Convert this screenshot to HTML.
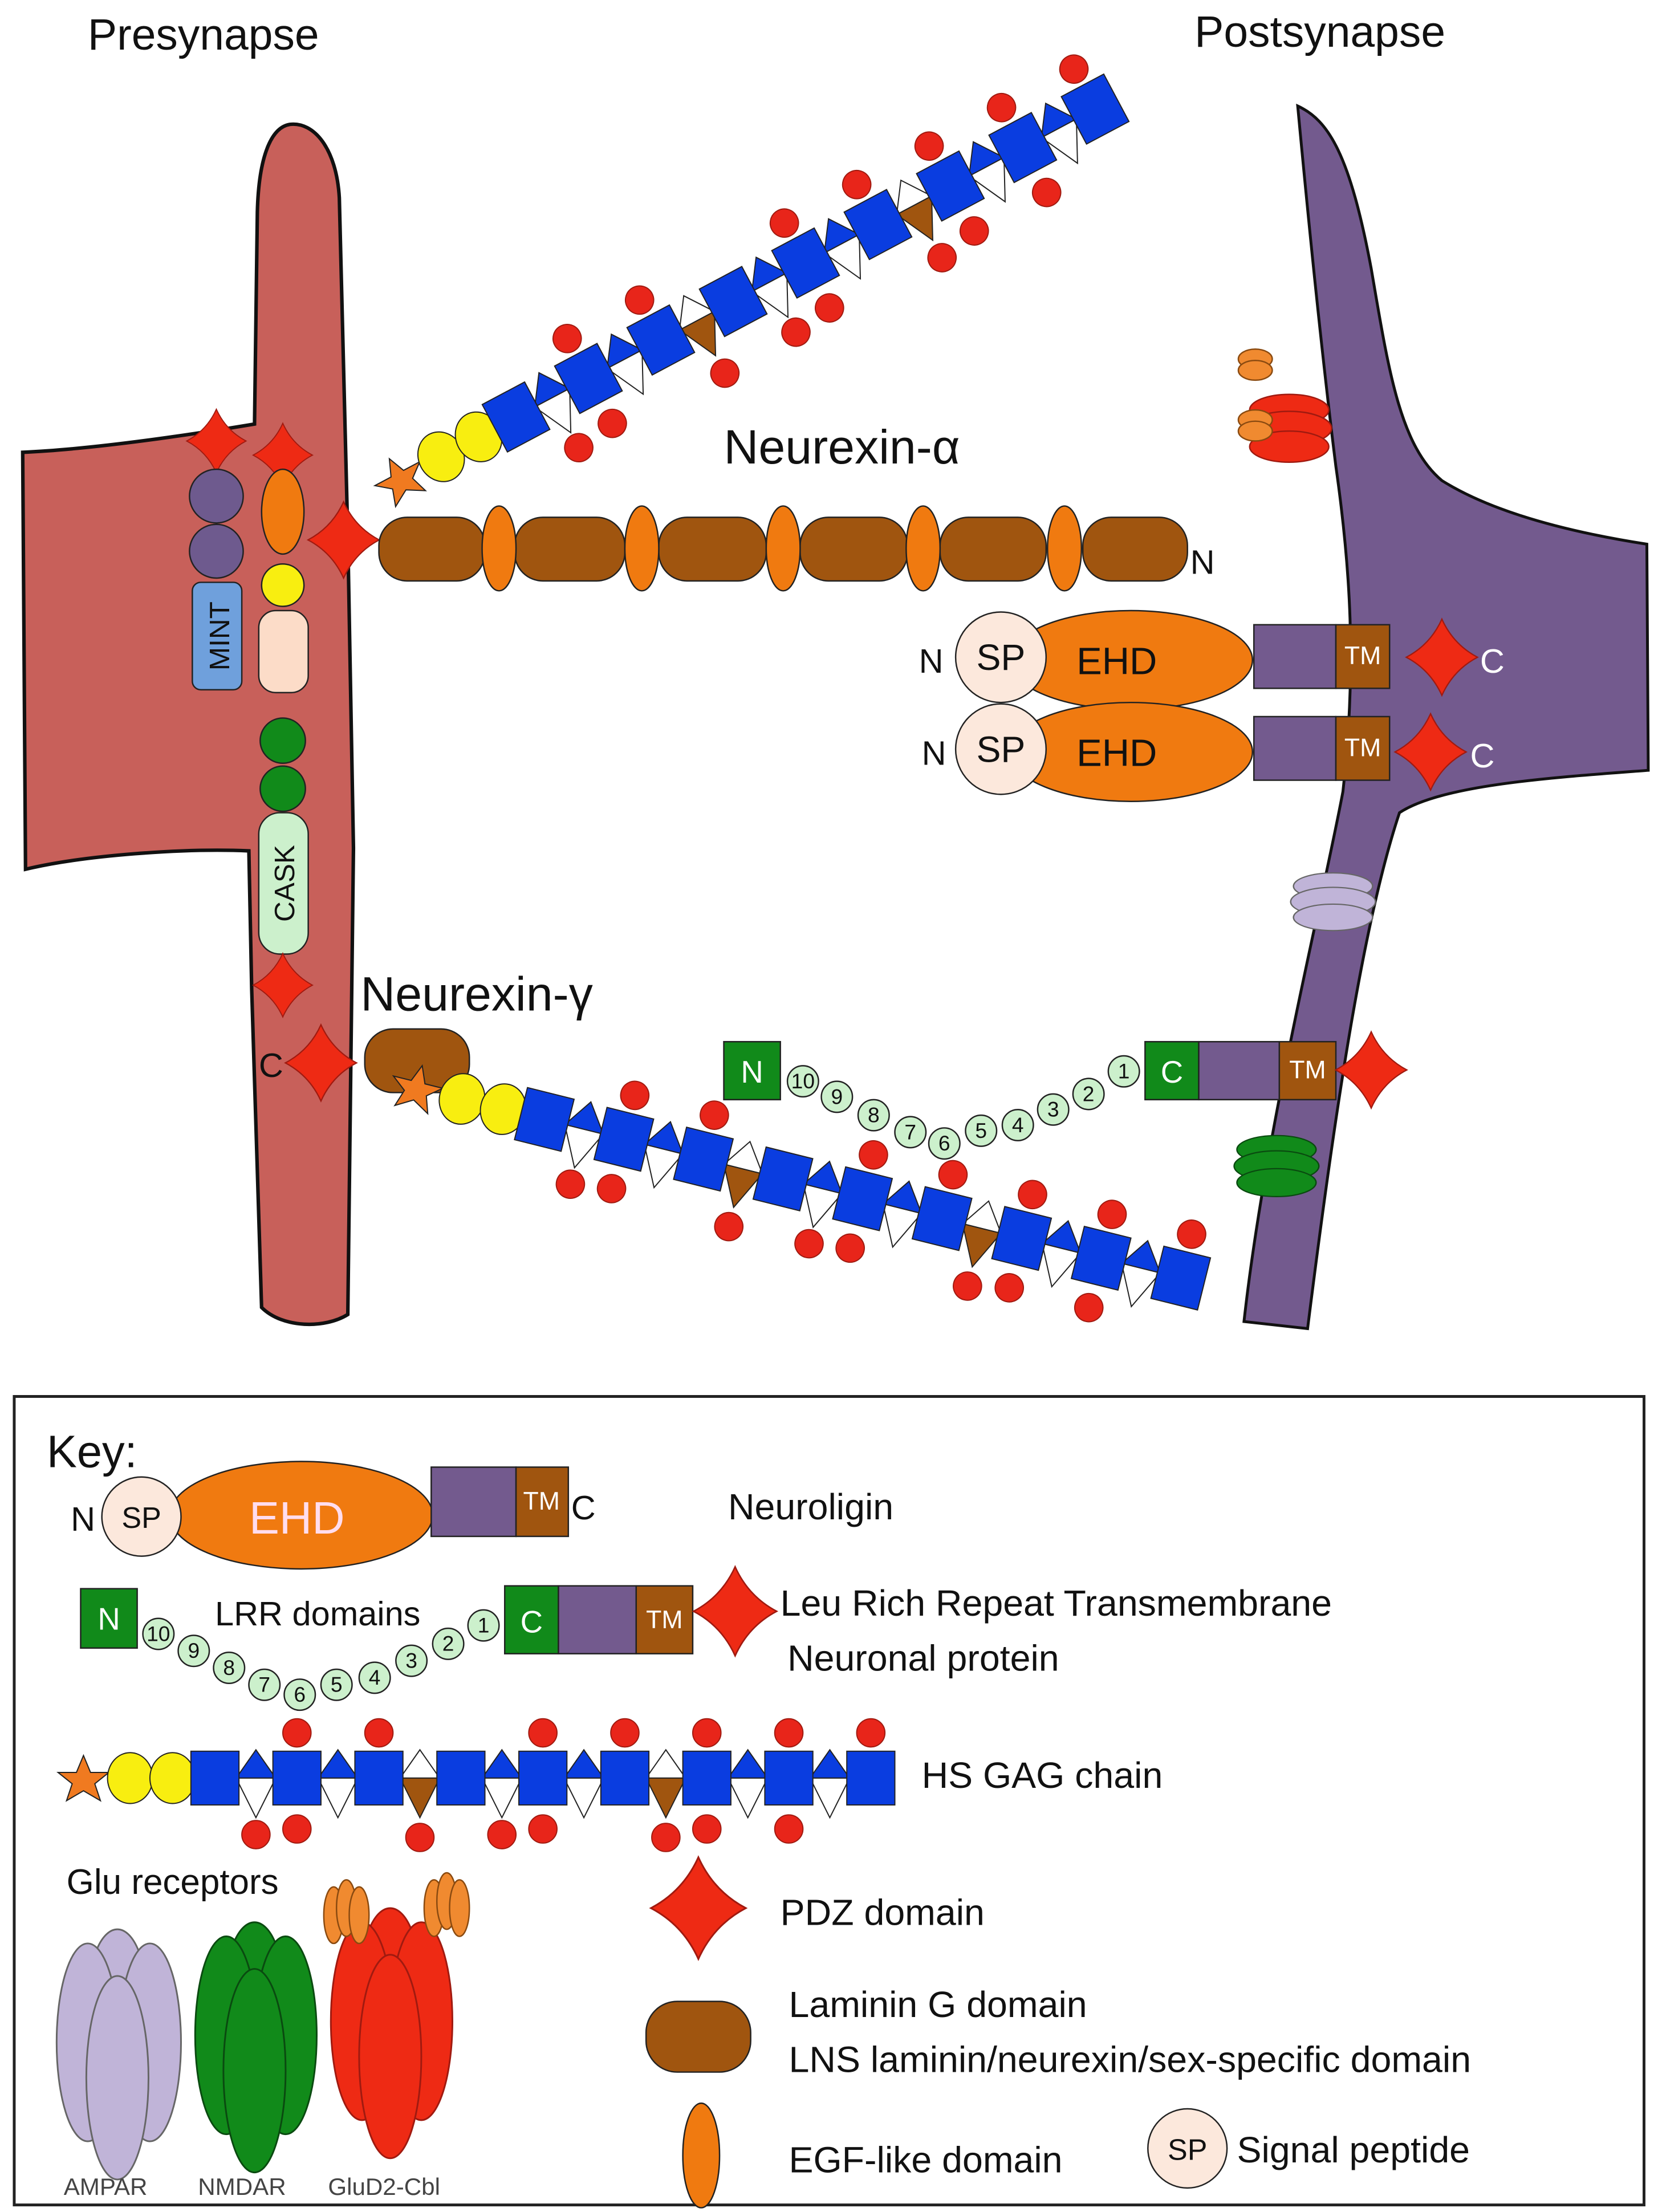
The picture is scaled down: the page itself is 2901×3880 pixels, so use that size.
<!DOCTYPE html>
<html><head><meta charset="utf-8"><style>
html,body{margin:0;padding:0;background:#fff}
svg{display:block}
text{font-family:"Liberation Sans",sans-serif;fill:#111}
</style></head><body>
<svg width="2901" height="3880" viewBox="0 0 1170 1565" xmlns="http://www.w3.org/2000/svg">
<defs>
<path id="pdz" d="M0,-30 Q9,-10 28,0 Q9,10 0,30 Q-9,10 -28,0 Q-9,-10 0,-30Z" fill="#ee2a14" stroke="#a01a10" stroke-width="1"/>
<g id="gag" stroke="#222" stroke-width="0.8">
  <path d="M-93,-16 L-88,-4 L-75,-4 L-85,4 L-81,16 L-93,9 L-105,16 L-101,4 L-111,-4 L-98,-4Z" fill="#f07a20"/>
  <ellipse cx="-60" cy="0" rx="16" ry="18" fill="#f8ee10"/>
  <ellipse cx="-30" cy="0" rx="16" ry="18" fill="#f8ee10"/>
  <g fill="#e8251a" stroke="#a01a10">
    <circle cx="58" cy="-32" r="10"/><circle cx="116" cy="-32" r="10"/><circle cx="232" cy="-32" r="10"/>
    <circle cx="290" cy="-32" r="10"/><circle cx="348" cy="-32" r="10"/><circle cx="406" cy="-32" r="10"/><circle cx="464" cy="-32" r="10"/>
    <circle cx="29" cy="40" r="10"/><circle cx="58" cy="36" r="10"/><circle cx="145" cy="42" r="10"/><circle cx="203" cy="40" r="10"/>
    <circle cx="232" cy="36" r="10"/><circle cx="319" cy="42" r="10"/><circle cx="348" cy="36" r="10"/><circle cx="406" cy="36" r="10"/>
  </g>
  <g>
    <path d="M15,0 L43,0 L29,-20Z" fill="#0a3de0"/><path d="M15,0 L43,0 L29,28Z" fill="#fff"/>
    <path d="M73,0 L101,0 L87,-20Z" fill="#0a3de0"/><path d="M73,0 L101,0 L87,28Z" fill="#fff"/>
    <path d="M131,0 L159,0 L145,-20Z" fill="#fff"/><path d="M131,0 L159,0 L145,28Z" fill="#a0550f"/>
    <path d="M189,0 L217,0 L203,-20Z" fill="#0a3de0"/><path d="M189,0 L217,0 L203,28Z" fill="#fff"/>
    <path d="M247,0 L275,0 L261,-20Z" fill="#0a3de0"/><path d="M247,0 L275,0 L261,28Z" fill="#fff"/>
    <path d="M305,0 L333,0 L319,-20Z" fill="#fff"/><path d="M305,0 L333,0 L319,28Z" fill="#a0550f"/>
    <path d="M363,0 L391,0 L377,-20Z" fill="#0a3de0"/><path d="M363,0 L391,0 L377,28Z" fill="#fff"/>
    <path d="M421,0 L449,0 L435,-20Z" fill="#0a3de0"/><path d="M421,0 L449,0 L435,28Z" fill="#fff"/>
  </g>
  <g fill="#0a3de0">
    <rect x="-17" y="-19" width="34" height="38"/><rect x="41" y="-19" width="34" height="38"/><rect x="99" y="-19" width="34" height="38"/>
    <rect x="157" y="-19" width="34" height="38"/><rect x="215" y="-19" width="34" height="38"/><rect x="273" y="-19" width="34" height="38"/>
    <rect x="331" y="-19" width="34" height="38"/><rect x="389" y="-19" width="34" height="38"/><rect x="447" y="-19" width="34" height="38"/>
  </g>
</g>
<g id="rec">
  <ellipse cx="0" cy="-13" rx="28" ry="11"/><ellipse cx="0" cy="0" rx="30" ry="12"/><ellipse cx="0" cy="13" rx="28" ry="11"/>
</g>
</defs>

<path d="M205,88 C222,86 238,105 240,140 L246,380 L250,600 L246,930 C230,940 200,940 185,925 L178,700 L176,602 C130,600 60,605 18,615 L16,320 C60,318 120,310 180,300 L182,150 C183,110 192,90 205,88Z" fill="#c8605a" stroke="#111" stroke-width="2.5"/>
<path d="M918,75 C940,85 955,110 970,190 C982,260 990,315 1020,340 C1060,365 1120,378 1165,385 L1166,545 C1100,550 1020,555 990,575 C965,650 945,780 925,940 L880,935 C895,800 935,640 950,560 C960,470 955,400 945,330 C935,250 925,150 918,75Z" fill="#735a8e" stroke="#111" stroke-width="2"/>

<text x="62" y="35" font-size="31">Presynapse</text>
<text x="845" y="33" font-size="31">Postsynapse</text>

<use href="#pdz" transform="translate(153,312) scale(0.75)"/>
<circle cx="153" cy="351" r="19" fill="#6e5a8e" stroke="#222"/>
<circle cx="153" cy="390" r="19" fill="#6e5a8e" stroke="#222"/>
<rect x="136" y="412" width="35" height="76" rx="6" fill="#6fa0dc" stroke="#222"/>
<text transform="translate(162,450) rotate(-90)" font-size="20" text-anchor="middle">MINT</text>
<use href="#pdz" transform="translate(200,322) scale(0.75)"/>
<ellipse cx="200" cy="362" rx="15" ry="30" fill="#f07a10" stroke="#222"/>
<circle cx="200" cy="414" r="15" fill="#f8ee10" stroke="#222"/>
<rect x="183" y="432" width="35" height="58" rx="12" fill="#fcdcc8" stroke="#222"/>
<circle cx="200" cy="524" r="16" fill="#118a1a" stroke="#222"/>
<circle cx="200" cy="558" r="16" fill="#118a1a" stroke="#222"/>
<rect x="183" y="575" width="35" height="100" rx="15" fill="#ccf0cc" stroke="#222"/>
<text transform="translate(208,625) rotate(-90)" font-size="20" text-anchor="middle">CASK</text>
<use href="#pdz" transform="translate(200,697) scale(0.75)"/>

<text x="512" y="328" font-size="34">Neurexin-α</text>
<use href="#pdz" transform="translate(243,382) scale(0.9)"/>
<g fill="#a0550f" stroke="#222">
<rect x="268" y="366" width="75" height="45" rx="20"/><rect x="364" y="366" width="78" height="45" rx="20"/>
<rect x="466" y="366" width="76" height="45" rx="20"/><rect x="566" y="366" width="76" height="45" rx="20"/>
<rect x="665" y="366" width="75" height="45" rx="20"/><rect x="766" y="366" width="74" height="45" rx="20"/>
</g>
<g fill="#f07a10" stroke="#222">
<ellipse cx="353" cy="388" rx="12" ry="30"/><ellipse cx="454" cy="388" rx="12" ry="30"/>
<ellipse cx="554" cy="388" rx="12" ry="30"/><ellipse cx="653" cy="388" rx="12" ry="30"/><ellipse cx="753" cy="388" rx="12" ry="30"/>
</g>
<text x="842" y="406" font-size="24">N</text>

<use href="#gag" transform="translate(365,295) rotate(-28)"/>

<g>
<text x="650" y="476" font-size="24">N</text>
<ellipse cx="800" cy="467" rx="86" ry="35" fill="#f07a10" stroke="#222"/>
<circle cx="708" cy="465" r="32" fill="#fce8dc" stroke="#222"/>
<text x="708" y="474" font-size="26" text-anchor="middle">SP</text>
<text x="790" y="477" font-size="27" text-anchor="middle">EHD</text>
<rect x="887" y="442" width="58" height="45" fill="#735a8e" stroke="#222"/>
<rect x="945" y="442" width="38" height="45" fill="#a0550f" stroke="#222"/>
<text x="964" y="470" font-size="18" text-anchor="middle" style="fill:#fff">TM</text>
<use href="#pdz" transform="translate(1020,465) scale(0.9)"/>
<text x="1047" y="476" font-size="24" style="fill:#fff">C</text>
</g>
<g transform="translate(0,65)">
<text x="652" y="476" font-size="24">N</text>
<ellipse cx="800" cy="467" rx="86" ry="35" fill="#f07a10" stroke="#222"/>
<circle cx="708" cy="465" r="32" fill="#fce8dc" stroke="#222"/>
<text x="708" y="474" font-size="26" text-anchor="middle">SP</text>
<text x="790" y="477" font-size="27" text-anchor="middle">EHD</text>
<rect x="887" y="442" width="58" height="45" fill="#735a8e" stroke="#222"/>
<rect x="945" y="442" width="38" height="45" fill="#a0550f" stroke="#222"/>
<text x="964" y="470" font-size="18" text-anchor="middle" style="fill:#fff">TM</text>
<use href="#pdz" transform="translate(1012,467) scale(0.9)"/>
<text x="1040" y="478" font-size="24" style="fill:#fff">C</text>
</g>

<g fill="#ee2a14" stroke="#a01a10"><use href="#rec" transform="translate(912,303)"/></g>
<g fill="#f08a30" stroke="#8a4a10"><ellipse cx="888" cy="254" rx="12" ry="7"/><ellipse cx="888" cy="262" rx="12" ry="7"/><ellipse cx="888" cy="297" rx="12" ry="7"/><ellipse cx="888" cy="305" rx="12" ry="7"/></g>
<g fill="#c0b4d8" stroke="#666"><use href="#rec" transform="translate(943,638) scale(1,0.85)"/></g>
<g fill="#118a1a" stroke="#0a4a10"><use href="#rec" transform="translate(903,825) scale(1,0.9)"/></g>

<text x="255" y="715" font-size="34">Neurexin-γ</text>
<text x="183" y="762" font-size="24">C</text>
<use href="#pdz" transform="translate(227,752) scale(0.9)"/>
<rect x="258" y="728" width="74" height="45" rx="20" fill="#a0550f" stroke="#222"/>
<use href="#gag" transform="translate(385,792) rotate(14)"/>

<rect x="512" y="737" width="40" height="41" fill="#118a1a" stroke="#222"/>
<text x="532" y="766" font-size="22" text-anchor="middle" style="fill:#fff">N</text>
<g fill="#ccf0cc" stroke="#222">
<circle cx="568" cy="765" r="11"/><circle cx="592" cy="776" r="11"/><circle cx="618" cy="789" r="11"/><circle cx="644" cy="801" r="11"/><circle cx="668" cy="809" r="11"/>
<circle cx="694" cy="800" r="11"/><circle cx="720" cy="796" r="11"/><circle cx="745" cy="785" r="11"/><circle cx="770" cy="774" r="11"/><circle cx="795" cy="758" r="11"/>
</g>
<g font-size="15" text-anchor="middle">
<text x="568" y="770">10</text><text x="592" y="781">9</text><text x="618" y="794">8</text><text x="644" y="806">7</text><text x="668" y="814">6</text>
<text x="694" y="805">5</text><text x="720" y="801">4</text><text x="745" y="790">3</text><text x="770" y="779">2</text><text x="795" y="763">1</text>
</g>
<rect x="810" y="737" width="38" height="41" fill="#118a1a" stroke="#222"/>
<text x="829" y="766" font-size="22" text-anchor="middle" style="fill:#fff">C</text>
<rect x="848" y="737" width="57" height="41" fill="#735a8e" stroke="#222"/>
<rect x="905" y="737" width="40" height="41" fill="#a0550f" stroke="#222"/>
<text x="925" y="763" font-size="18" text-anchor="middle" style="fill:#fff">TM</text>
<use href="#pdz" transform="translate(970,757) scale(0.9)"/>

<rect x="10" y="988" width="1153" height="572" fill="#fff" stroke="#222" stroke-width="2"/>
<text x="33" y="1038" font-size="32">Key:</text>

<text x="50" y="1083" font-size="24">N</text>
<ellipse cx="213" cy="1072" rx="93" ry="38" fill="#f07a10" stroke="#222"/>
<circle cx="100" cy="1073" r="28" fill="#fce8dc" stroke="#222"/>
<text x="100" y="1081" font-size="21" text-anchor="middle">SP</text>
<text x="210" y="1085" font-size="32" text-anchor="middle" style="fill:#fde">EHD</text>
<rect x="305" y="1038" width="60" height="49" fill="#735a8e" stroke="#222"/>
<rect x="365" y="1038" width="37" height="49" fill="#a0550f" stroke="#222"/>
<text x="383" y="1068" font-size="18" text-anchor="middle" style="fill:#fff">TM</text>
<text x="404" y="1075" font-size="24">C</text>
<text x="515" y="1075" font-size="26">Neuroligin</text>

<rect x="57" y="1124" width="40" height="42" fill="#118a1a" stroke="#222"/>
<text x="77" y="1153" font-size="22" text-anchor="middle" style="fill:#fff">N</text>
<g fill="#ccf0cc" stroke="#222">
<circle cx="112" cy="1156" r="11"/><circle cx="137" cy="1168" r="11"/><circle cx="162" cy="1180" r="11"/><circle cx="187" cy="1192" r="11"/><circle cx="212" cy="1199" r="11"/>
<circle cx="238" cy="1192" r="11"/><circle cx="265" cy="1187" r="11"/><circle cx="291" cy="1175" r="11"/><circle cx="317" cy="1163" r="11"/><circle cx="342" cy="1150" r="11"/>
</g>
<g font-size="15" text-anchor="middle">
<text x="112" y="1161">10</text><text x="137" y="1173">9</text><text x="162" y="1185">8</text><text x="187" y="1197">7</text><text x="212" y="1204">6</text>
<text x="238" y="1197">5</text><text x="265" y="1192">4</text><text x="291" y="1180">3</text><text x="317" y="1168">2</text><text x="342" y="1155">1</text>
</g>
<text x="152" y="1150" font-size="24">LRR domains</text>
<rect x="357" y="1122" width="38" height="48" fill="#118a1a" stroke="#222"/>
<text x="376" y="1155" font-size="22" text-anchor="middle" style="fill:#fff">C</text>
<rect x="395" y="1122" width="55" height="48" fill="#735a8e" stroke="#222"/>
<rect x="450" y="1122" width="40" height="48" fill="#a0550f" stroke="#222"/>
<text x="470" y="1152" font-size="18" text-anchor="middle" style="fill:#fff">TM</text>
<use href="#pdz" transform="translate(520,1140) scale(1.05)"/>
<text x="552" y="1143" font-size="26">Leu Rich Repeat Transmembrane</text>
<text x="557" y="1182" font-size="26">Neuronal protein</text>

<use href="#gag" transform="translate(152,1258)"/>
<text x="652" y="1265" font-size="26">HS GAG chain</text>

<text x="47" y="1340" font-size="25">Glu receptors</text>
<g fill="#c0b4d8" stroke="#666" stroke-width="1.2">
<ellipse cx="83" cy="1410" rx="20" ry="45"/><ellipse cx="62" cy="1445" rx="22" ry="70"/><ellipse cx="106" cy="1445" rx="22" ry="70"/><ellipse cx="83" cy="1470" rx="22" ry="72"/>
</g>
<g fill="#118a1a" stroke="#0a4a10" stroke-width="1.2">
<ellipse cx="180" cy="1405" rx="20" ry="45"/><ellipse cx="160" cy="1440" rx="22" ry="70"/><ellipse cx="202" cy="1440" rx="22" ry="70"/><ellipse cx="180" cy="1465" rx="22" ry="72"/>
</g>
<g fill="#ee2a14" stroke="#a01a10" stroke-width="1.2">
<ellipse cx="276" cy="1395" rx="20" ry="45"/><ellipse cx="256" cy="1430" rx="22" ry="70"/><ellipse cx="298" cy="1430" rx="22" ry="70"/><ellipse cx="276" cy="1455" rx="22" ry="72"/>
</g>
<g fill="#f08a30" stroke="#8a4a10">
<ellipse cx="236" cy="1355" rx="7" ry="20"/><ellipse cx="245" cy="1350" rx="7" ry="20"/><ellipse cx="254" cy="1355" rx="7" ry="20"/>
<ellipse cx="307" cy="1350" rx="7" ry="20"/><ellipse cx="316" cy="1345" rx="7" ry="20"/><ellipse cx="325" cy="1350" rx="7" ry="20"/>
</g>
<text x="45" y="1553" font-size="17" style="fill:#444">AMPAR</text>
<text x="140" y="1553" font-size="17" style="fill:#444">NMDAR</text>
<text x="232" y="1553" font-size="17" style="fill:#444">GluD2-Cbl</text>

<use href="#pdz" transform="translate(494,1350) scale(1.2)"/>
<text x="552" y="1362" font-size="26">PDZ domain</text>
<rect x="457" y="1416" width="74" height="50" rx="22" fill="#a0550f" stroke="#222"/>
<text x="558" y="1427" font-size="26">Laminin G domain</text>
<text x="558" y="1466" font-size="26">LNS laminin/neurexin/sex-specific domain</text>
<ellipse cx="496" cy="1525" rx="13" ry="37" fill="#f07a10" stroke="#222"/>
<text x="558" y="1537" font-size="26">EGF-like domain</text>
<circle cx="840" cy="1520" r="28" fill="#fce8dc" stroke="#222"/>
<text x="840" y="1528" font-size="21" text-anchor="middle">SP</text>
<text x="875" y="1530" font-size="26">Signal peptide</text>
</svg>
</body></html>
